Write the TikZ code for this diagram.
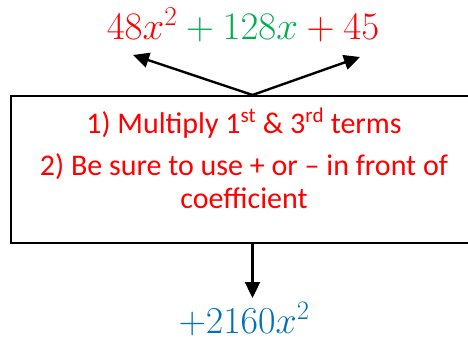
\documentclass[tikz,border=0pt]{standalone}
\usepackage{fix-cm}
\usepackage{fontspec}
\setmainfont{Carlito}
\usepackage{xcolor}
\usepackage{tikz}
\usetikzlibrary{arrows.meta, positioning}
\definecolor{termred}{RGB}{255, 0, 0}
\definecolor{termgreen}{RGB}{0, 176, 80}
\definecolor{resultblue}{RGB}{0, 112, 192}

\begin{document}
\begin{tikzpicture}[x=1pt, y=-1pt, line width=2pt,
  arrow/.style={line width=2.4pt, -{Triangle[length=16pt, width=15pt]}}]
  \useasboundingbox (0,0) rectangle (468,337);
  \node[anchor=base, inner sep=0pt] (expr) at (243,40)
    {\fontsize{39}{44}\selectfont $\color{termred}48x^2\color{termgreen}{}+128x\color{termred}{}+45$};
  \node[draw, minimum width=484pt, minimum height=147pt] (frame) at (252.5,169.5) {};
  \node[termred, align=center, anchor=north, font=\fontsize{30}{33}\selectfont] (steps) at (244,104)
    {1) Multiply 1\textsuperscript{st} \& 3\textsuperscript{rd} terms\\[9pt]
     2) Be sure to use + or -- in front of\\ coefficient};
  \node[resultblue, anchor=base, inner sep=0pt] (result) at (244,333)
    {\fontsize{38}{42}\selectfont $+2160x^2$};
  \coordinate (lefttip) at (133,55);
  \coordinate (righttip) at (360,57);
  \coordinate (downtip) at (252.5,298);
  \draw[arrow] (frame.north) -- (lefttip);
  \draw[arrow] (frame.north) -- (righttip);
  \draw[arrow] (frame.south) -- (downtip);
\end{tikzpicture}
\end{document}
